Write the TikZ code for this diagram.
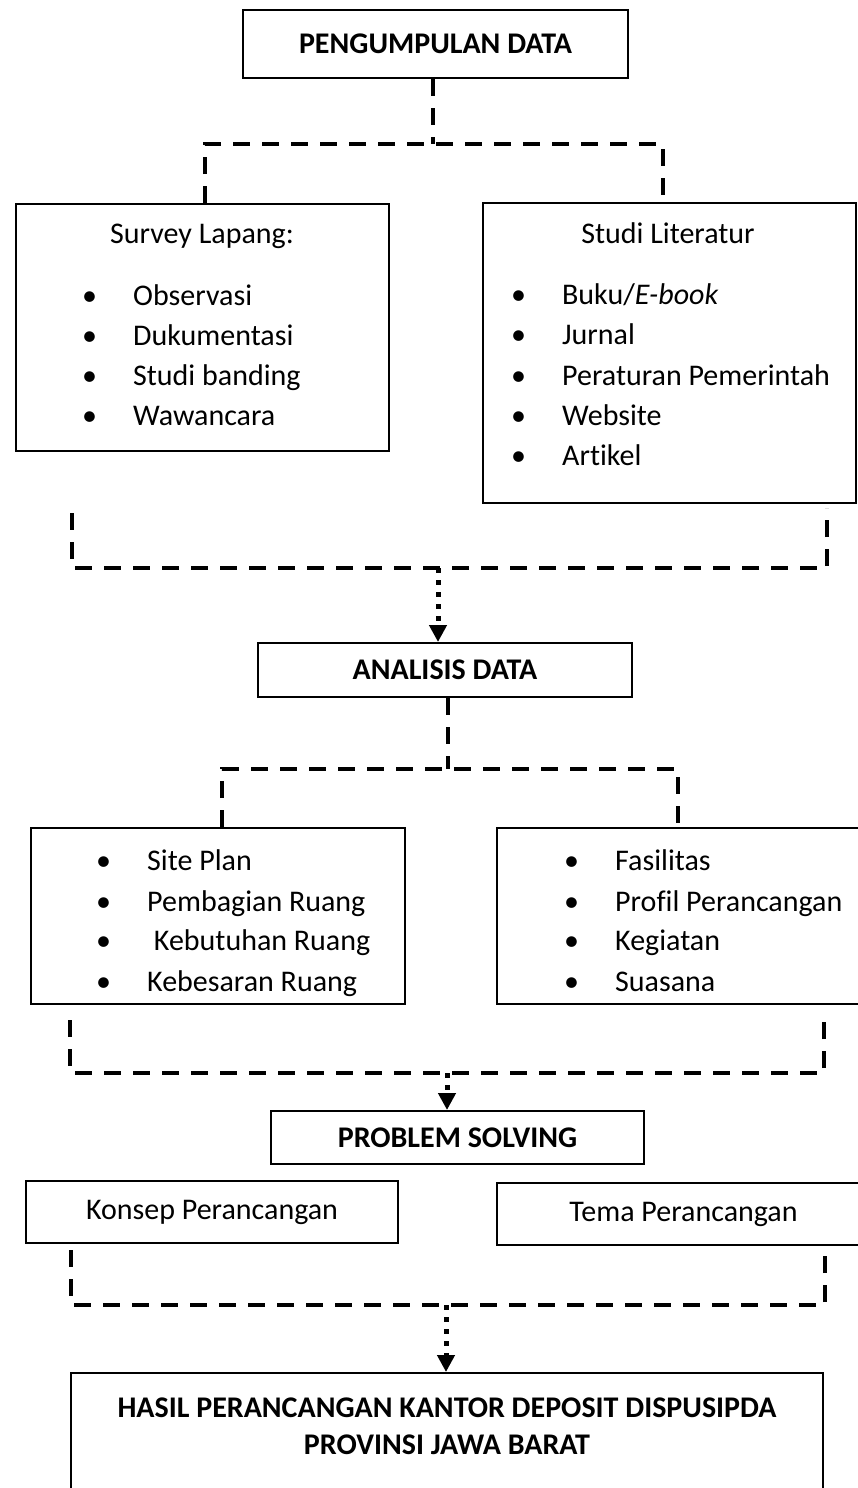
\documentclass[tikz,border=0pt]{standalone}
\usepackage{fontspec}
\setmainfont{Carlito}[Ligatures=CommonOff]
\usetikzlibrary{arrows.meta,calc,positioning}
\tikzset{
    x=1pt, y=-1pt,
    box/.style = {draw, line width=2pt, inner sep=0pt},
    judul/.style = {font=\fontsize{30}{37}\selectfont\bfseries},
    isi/.style = {anchor=base west, inner sep=0pt},
    garis/.style = {line width=4pt, dash pattern=on 17pt off 12pt},
    panah/.style = {line width=5pt, dash pattern=on 5pt off 7pt, -{Triangle[length=17pt,width=17pt]}},
}
\newcommand{\butir}[1]{\makebox[51pt][l]{\textbullet}#1}

\begin{document}
\begin{tikzpicture}[font=\fontsize{30}{37}\selectfont]
\useasboundingbox (0,0) rectangle (858,1488);

    % kotak utama
    \node[box, judul, minimum width=385pt, minimum height=68pt] (pengumpulan) at (435.5,44) {PENGUMPULAN DATA};
    \node[box, minimum width=373pt, minimum height=247pt] (survey) at (202.5,327.5) {};
    \node[box, minimum width=373pt, minimum height=300pt] (studi) at (669.5,353) {};
    \node[box, judul, minimum width=374pt, minimum height=54pt] (analisis) at (445,670) {ANALISIS DATA};
    \node[box, minimum width=374pt, minimum height=176pt] (tapak) at (218,916) {};
    \node[box, minimum width=373pt, minimum height=176pt] (fasilitas) at (683.5,916) {};
    \node[box, judul, minimum width=373pt, minimum height=53pt] (problem) at (457.5,1137.5) {PROBLEM SOLVING};
    \node[box, minimum width=372pt, minimum height=62pt] (konsep) at (212,1212) {Konsep Perancangan};
    \node[box, minimum width=373pt, minimum height=62pt] (tema) at (683.5,1214) {Tema Perancangan};
    \node[box, minimum width=752pt, minimum height=127pt] (hasil) at (447,1436.5) {};
    \node[judul, align=center] (hasil-t) at (447,1426) {HASIL PERANCANGAN KANTOR DEPOSIT DISPUSIPDA\\PROVINSI JAWA BARAT};

    % isi survey
    \node[anchor=base] (survey-t) at (202,243) {Survey Lapang:};
    \node[isi] (s1) at (82,305) {\butir{Observasi}};
    \node[isi] (s2) at (82,345) {\butir{Dukumentasi}};
    \node[isi] (s3) at (82,385) {\butir{Studi banding}};
    \node[isi] (s4) at (82,425) {\butir{Wawancara}};
    % isi studi literatur
    \node[anchor=base] (studi-t) at (668,243) {Studi Literatur};
    \node[isi] (l1) at (511,304) {\butir{Buku/\textit{E-book}}};
    \node[isi] (l2) at (511,344) {\butir{Jurnal}};
    \node[isi] (l3) at (511,385) {\butir{Peraturan Pemerintah}};
    \node[isi] (l4) at (511,425) {\butir{Website}};
    \node[isi] (l5) at (511,465) {\butir{Artikel}};
    % isi analisis
    \node[isi] (t1) at (96,870) {\butir{Site Plan}};
    \node[isi] (t2) at (96,911) {\butir{Pembagian Ruang}};
    \node[isi] (t3) at (96,950) {\butir{\ Kebutuhan Ruang}};
    \node[isi] (t4) at (96,991) {\butir{Kebesaran Ruang}};
    \node[isi] (f1) at (564,870) {\butir{Fasilitas}};
    \node[isi] (f2) at (564,911) {\butir{Profil Perancangan}};
    \node[isi] (f3) at (564,950) {\butir{Kegiatan}};
    \node[isi] (f4) at (564,991) {\butir{Suasana}};

    % titik sambungan
    \coordinate (a0) at (433,144);
    \coordinate (a1) at (205,144);
    \coordinate (a2) at (663,144);
    \coordinate (b1) at (72,513);
    \coordinate (b2) at (72,568);
    \coordinate (b3) at (827,568);
    \coordinate (b4) at (827,508);
    \coordinate (b0) at (438,568);
    \coordinate (c0) at (448,769);
    \coordinate (c1) at (222,769);
    \coordinate (c2) at (678,769);
    \coordinate (d1) at (70,1020);
    \coordinate (d2) at (70,1073);
    \coordinate (d3) at (824,1073);
    \coordinate (d4) at (824,1013);
    \coordinate (d0) at (447,1073);
    \coordinate (e1) at (71,1250);
    \coordinate (e2) at (71,1305);
    \coordinate (e3) at (825,1305);
    \coordinate (e4) at (825,1247);
    \coordinate (e0) at (446,1305);

    % garis putus-putus
    \draw[garis] (pengumpulan.south -| a0) -- (a0);
    \draw[garis] (a1 |- survey.north) -- (a1) -- (a2) -- (a2 |- studi.north);
    \draw[garis] (b1) -- (b2) -- (b3) -- (b4);
    \draw[panah] (b0) -- (b0 |- analisis.north);

    \draw[garis] (analisis.south -| c0) -- (c0);
    \draw[garis] (c1 |- tapak.north) -- (c1) -- (c2) -- (c2 |- fasilitas.north);
    \draw[garis] (d1) -- (d2) -- (d3) -- (d4);
    \draw[panah] (d0) -- (d0 |- problem.north);

    \draw[garis] (e1) -- (e2) -- (e3) -- (e4);
    \draw[panah] (e0) -- (e0 |- hasil.north);

\end{tikzpicture}
\end{document}
